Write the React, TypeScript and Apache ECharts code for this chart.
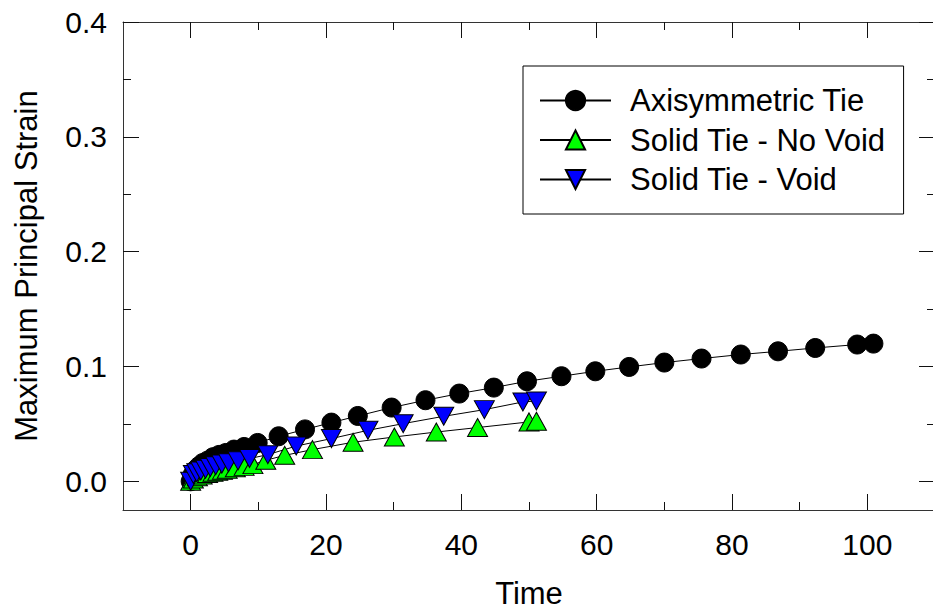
import React, { useEffect, useRef } from "react";
import * as echarts from "echarts";

// ---- data ----
const axiTime = [0, 0.3, 0.7, 1.2, 1.8, 2.5, 3.3, 4.2, 5.2, 6.4, 7.9, 9.9, 13.0, 16.9, 20.8, 24.7, 29.7, 34.7, 39.7, 44.8, 49.7, 54.8, 59.8, 64.8, 70.0, 75.5, 81.3, 86.8, 92.3, 98.5, 100.9];
const axiStrain = [0, 0.006, 0.010, 0.013, 0.016, 0.018, 0.021, 0.023, 0.0247, 0.0276, 0.0299, 0.0334, 0.0392, 0.0452, 0.0511, 0.0569, 0.0642, 0.0706, 0.0764, 0.0816, 0.0871, 0.0915, 0.0958, 0.0996, 0.1034, 0.1069, 0.1104, 0.1132, 0.1161, 0.1191, 0.1199];

const noVoidTime = [0, 0.4, 1.0, 1.7, 2.5, 3.3, 4.0, 4.7, 5.4, 6.6, 7.9, 9.2, 11.1, 13.9, 18.0, 24.0, 30.1, 36.3, 42.4, 50.0, 51.1];
const noVoidStrain = [0, 0.002, 0.004, 0.0055, 0.0068, 0.0078, 0.0088, 0.0097, 0.0105, 0.0118, 0.013, 0.0145, 0.0183, 0.0226, 0.0276, 0.034, 0.0386, 0.0429, 0.0468, 0.0517, 0.0523];

const voidTime = [0, 0.4, 0.9, 1.5, 2.2, 2.9, 3.7, 4.6, 5.6, 7.0, 8.7, 11.4, 15.6, 20.8, 26.2, 31.4, 37.4, 43.4, 49.1, 51.1];
const voidStrain = [0, 0.006, 0.0075, 0.009, 0.0105, 0.012, 0.0135, 0.015, 0.0162, 0.0178, 0.0198, 0.0232, 0.0307, 0.0372, 0.0444, 0.0502, 0.0566, 0.0624, 0.0691, 0.070];

const seriesNames = ["Axisymmetric Tie", "Solid Tie - No Void", "Solid Tie - Void"];

const xMajorTicks = [0, 20, 40, 60, 80, 100];
const xMinorTicks = [10, 30, 50, 70, 90];
const yMajorTicks = [0, 0.1, 0.2, 0.3, 0.4];
const yMinorTicks = [0.05, 0.15, 0.25, 0.35];

const X_MIN = -10;
const X_MAX = 110;
const Y_MIN = -0.025;
const Y_MAX = 0.4;

const FONT = "'Liberation Sans', Arial, Helvetica, sans-serif";
const FRAME = "#333";

function zip(xs: number[], ys: number[]) {
  return xs.map((x, i) => [x, ys[i]]);
}

function xAxis(position: string, ticks: number[], len: number, labels: boolean, name: boolean, line: boolean) {
  return {
    type: "value",
    position,
    min: X_MIN,
    max: X_MAX,
    name: name ? "Time" : "",
    nameLocation: "middle",
    nameGap: 71,
    nameTextStyle: { fontFamily: FONT, fontSize: 31, color: "#000", lineHeight: 24 },
    axisLine: { show: line, onZero: false, lineStyle: { color: FRAME, width: 1 } },
    axisTick: { show: true, inside: true, length: len, customValues: ticks, lineStyle: { color: "#111", width: 1 } },
    axisLabel: {
      show: labels,
      customValues: labels ? ticks : undefined,
      margin: 19,
      fontFamily: FONT,
      fontSize: 30,
      color: "#000",
    },
    minorTick: { show: false },
    splitLine: { show: false },
  };
}

function yAxis(position: string, ticks: number[], len: number, labels: boolean, name: boolean, line: boolean) {
  return {
    type: "value",
    position,
    min: Y_MIN,
    max: Y_MAX,
    name: name ? "Maximum Principal Strain" : "",
    nameLocation: "middle",
    nameRotate: 90,
    nameGap: 81,
    nameTextStyle: { fontFamily: FONT, fontSize: 31, color: "#000" },
    axisLine: { show: line, onZero: false, lineStyle: { color: FRAME, width: 1 } },
    axisTick: { show: true, inside: true, length: len, customValues: ticks, lineStyle: { color: "#111", width: 1 } },
    axisLabel: {
      show: labels,
      customValues: labels ? ticks : undefined,
      margin: 16,
      fontFamily: FONT,
      fontSize: 30,
      color: "#000",
      formatter: (v: number) => v.toFixed(1),
    },
    minorTick: { show: false },
    splitLine: { show: false },
  };
}

export default function App() {
  const ref = useRef<HTMLDivElement>(null);

  useEffect(() => {
    const chart = echarts.init(ref.current!, null, { renderer: "svg" });
    const option: any = {
      animation: false,
      backgroundColor: "#fff",
      grid: { left: 123, top: 22, width: 812, height: 488, containLabel: false, outerBoundsMode: "none" },
      xAxis: [
        xAxis("bottom", xMajorTicks, 16, true, true, true),
        xAxis("bottom", xMinorTicks, 8, false, false, false),
        xAxis("top", xMajorTicks, 16, false, false, true),
        xAxis("top", xMinorTicks, 8, false, false, false),
      ],
      yAxis: [
        yAxis("left", yMajorTicks, 16, true, true, true),
        yAxis("left", yMinorTicks, 8, false, false, false),
        yAxis("right", yMajorTicks, 16, false, false, true),
        yAxis("right", yMinorTicks, 8, false, false, false),
      ],
      legend: {
        show: true,
        orient: "vertical",
        left: 523,
        top: 66,
        padding: [19, 18, 19, 16],
        itemWidth: 71,
        itemHeight: 24,
        itemGap: 8.5,
        borderColor: "#000",
        borderWidth: 1,
        backgroundColor: "#fff",
        selectedMode: false,
        data: seriesNames,
        textStyle: { fontFamily: FONT, fontSize: 31, color: "#000", lineHeight: 30, padding: [0, 0, 0, 14] },
      },
      series: [
        {
          name: seriesNames[0],
          type: "line",
          data: zip(axiTime, axiStrain),
          symbol: "circle",
          symbolSize: 19,
          showAllSymbol: true,
          lineStyle: { color: "#000", width: 1 },
          itemStyle: { color: "#000", borderColor: "#000", borderWidth: 1 },
        },
        {
          name: seriesNames[1],
          type: "line",
          data: zip(noVoidTime, noVoidStrain),
          symbol: "triangle",
          symbolSize: [20, 18],
          showAllSymbol: true,
          lineStyle: { color: "#000", width: 1 },
          itemStyle: { color: "#00ff00", borderColor: "#000", borderWidth: 1 },
        },
        {
          name: seriesNames[2],
          type: "line",
          data: zip(voidTime, voidStrain),
          symbol: "triangle",
          symbolRotate: 180,
          symbolSize: [20, 18],
          showAllSymbol: true,
          lineStyle: { color: "#000", width: 1 },
          itemStyle: { color: "#0000ff", borderColor: "#000", borderWidth: 1 },
        },
      ],
    };
    chart.setOption(option);
    return () => chart.dispose();
  }, []);

  return (
    <div
      ref={ref}
      style={{ position: "fixed", left: 0, top: 0, width: 933, height: 613, background: "#fff" }}
    />
  );
}
